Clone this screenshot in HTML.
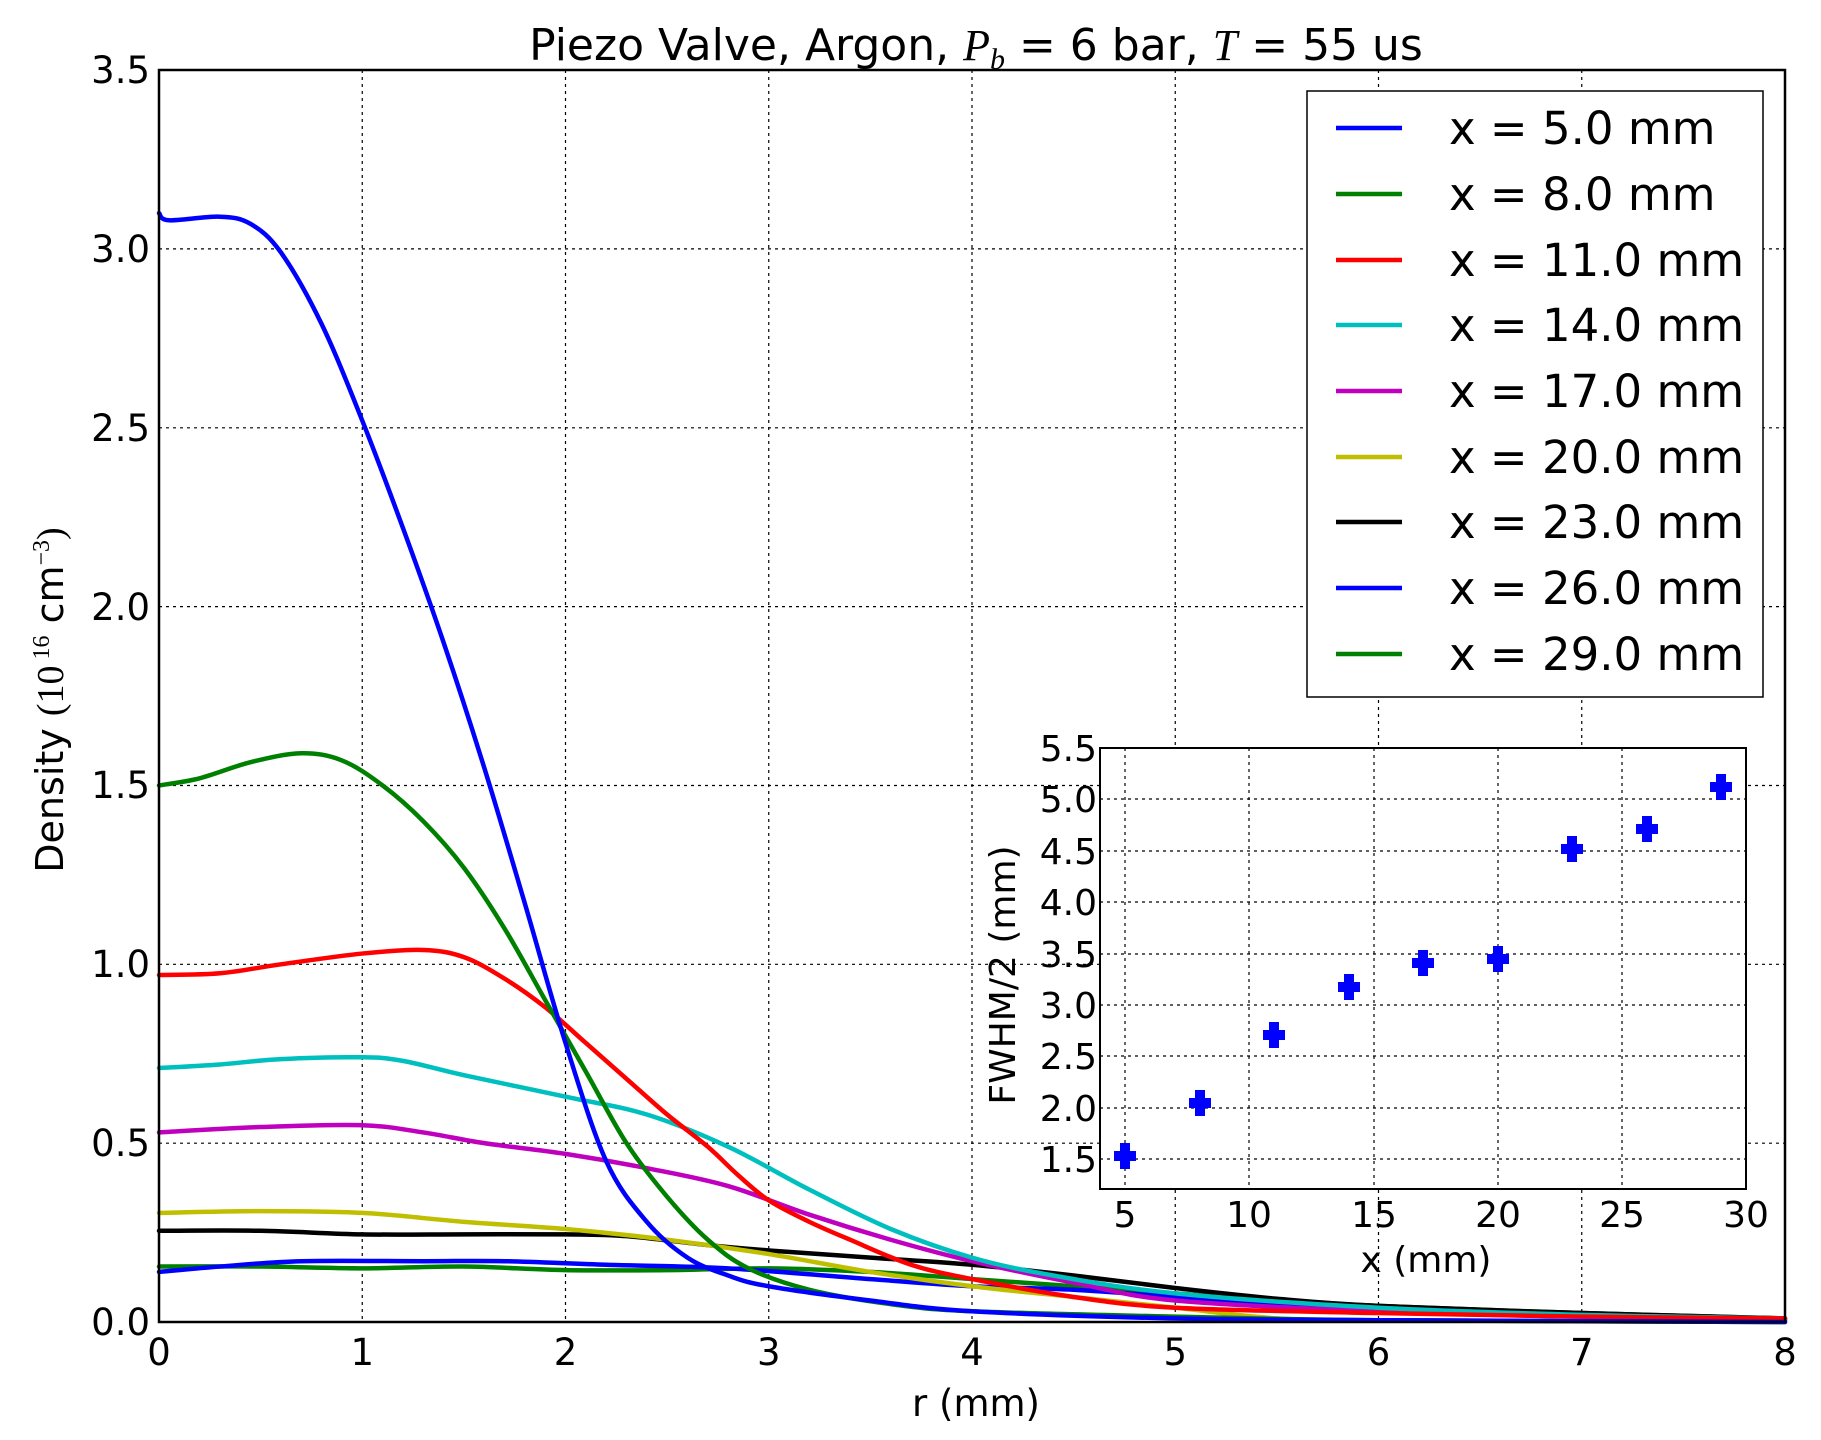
<!DOCTYPE html>
<html><head><meta charset="utf-8"><style>
html,body{margin:0;padding:0;background:#fff;}
svg{display:block;font-family:"DejaVu Sans","Liberation Sans",sans-serif;}
</style></head><body>
<svg id="s" width="1821" height="1440" viewBox="0 0 1821 1440" xmlns="http://www.w3.org/2000/svg">
<rect width="1821" height="1440" fill="#fff"/>
<g stroke="#000" stroke-width="1.2" stroke-dasharray="3,4">
<line x1="362.25" y1="70" x2="362.25" y2="1322"/><line x1="565.5" y1="70" x2="565.5" y2="1322"/><line x1="768.75" y1="70" x2="768.75" y2="1322"/><line x1="972" y1="70" x2="972" y2="1322"/><line x1="1175.25" y1="70" x2="1175.25" y2="1322"/><line x1="1378.5" y1="70" x2="1378.5" y2="1322"/><line x1="1581.75" y1="70" x2="1581.75" y2="1322"/>
<line x1="159" y1="1143.2" x2="1785" y2="1143.2"/><line x1="159" y1="964.3" x2="1785" y2="964.3"/><line x1="159" y1="785.5" x2="1785" y2="785.5"/><line x1="159" y1="606.6" x2="1785" y2="606.6"/><line x1="159" y1="427.8" x2="1785" y2="427.8"/><line x1="159" y1="248.9" x2="1785" y2="248.9"/>
</g>
<g transform="translate(159,1322) scale(203.25,-357.7)" fill="none" stroke-width="4.5" stroke-linejoin="round" stroke-linecap="round">
<polyline class="c" vector-effect="non-scaling-stroke" stroke="#008000" points="0,0.155 0.5,0.155 1,0.15 1.5,0.155 2,0.145 2.5,0.145 3,0.15 3.5,0.14 4,0.12 4.5,0.1 5,0.08 5.5,0.06 6,0.045 7,0.025 8,0.01"/>
<polyline class="c" vector-effect="non-scaling-stroke" stroke="#0000ff" points="0,0.14 0.3,0.155 0.7,0.17 1.3,0.17 1.7,0.17 2.2,0.16 2.8,0.15 3.5,0.12 4,0.1 4.5,0.09 5,0.07 5.5,0.05 6,0.035 7,0.02 7.5,0.01 8,0.005"/>
<polyline class="c" vector-effect="non-scaling-stroke" stroke="#000" points="0,0.255 0.5,0.255 1,0.245 1.5,0.245 2,0.245 2.3,0.24 2.7,0.215 3,0.2 3.5,0.18 4,0.16 4.5,0.13 5,0.095 5.5,0.065 6,0.045 7,0.025 8,0.01"/>
<polyline class="c" vector-effect="non-scaling-stroke" stroke="#bfbf00" points="0,0.305 0.5,0.31 1,0.305 1.5,0.28 2,0.26 2.5,0.23 3,0.19 3.5,0.14 4,0.1 4.5,0.07 5,0.04 5.5,0.01 6,0.005 8,0"/>
<polyline class="c" vector-effect="non-scaling-stroke" stroke="#bf00bf" points="0,0.53 0.5,0.545 1,0.55 1.3,0.53 1.6,0.5 2,0.47 2.4,0.43 2.8,0.38 3.2,0.3 3.6,0.23 4,0.17 4.5,0.11 5,0.06 6,0.03 7,0.015 8,0.01"/>
<polyline class="c" vector-effect="non-scaling-stroke" stroke="#00bfbf" points="0,0.71 0.3,0.72 0.6,0.735 1,0.74 1.2,0.73 1.5,0.69 2,0.63 2.4,0.58 2.8,0.49 3.2,0.37 3.6,0.26 4,0.18 4.4,0.13 5,0.08 6,0.04 7,0.02 8,0.01"/>
<polyline class="c" vector-effect="non-scaling-stroke" stroke="#ff0000" points="0,0.97 0.3,0.975 0.6,1.0 1.0,1.03 1.3,1.04 1.5,1.02 1.7,0.96 1.9,0.88 2.1,0.78 2.3,0.68 2.5,0.58 2.7,0.49 2.85,0.41 3.0,0.34 3.2,0.28 3.4,0.23 3.7,0.16 4,0.12 4.5,0.07 5,0.04 6,0.025 7,0.015 8,0.01"/>
<polyline class="c" vector-effect="non-scaling-stroke" stroke="#008000" points="0,1.5 0.2,1.52 0.45,1.565 0.7,1.59 0.9,1.57 1.1,1.5 1.3,1.4 1.5,1.27 1.7,1.1 1.9,0.9 2.1,0.7 2.3,0.5 2.5,0.35 2.7,0.23 2.9,0.15 3.2,0.09 3.6,0.05 4,0.03 5,0.015 6,0.005 8,0"/>
<polyline class="c" vector-effect="non-scaling-stroke" stroke="#0000ff" points="0,3.1 0.05,3.08 0.3,3.09 0.45,3.07 0.6,2.99 0.8,2.79 1.0,2.52 1.2,2.22 1.4,1.9 1.6,1.55 1.8,1.17 2.0,0.78 2.2,0.45 2.4,0.28 2.6,0.18 2.8,0.13 3,0.1 3.5,0.06 4,0.03 5,0.01 6,0.005 8,0"/>
</g>
<rect x="159" y="70" width="1626" height="1252" fill="none" stroke="#000" stroke-width="2.5"/>
<g font-size="37" text-anchor="middle">
<text x="159" y="1365">0</text><text x="362.25" y="1365">1</text><text x="565.5" y="1365">2</text><text x="768.75" y="1365">3</text><text x="972" y="1365">4</text><text x="1175.25" y="1365">5</text><text x="1378.5" y="1365">6</text><text x="1581.75" y="1365">7</text><text x="1785" y="1365">8</text>
</g>
<g font-size="37" text-anchor="end">
<text x="150" y="1335">0.0</text><text x="150" y="1156">0.5</text><text x="150" y="977">1.0</text><text x="150" y="798">1.5</text><text x="150" y="620">2.0</text><text x="150" y="441">2.5</text><text x="150" y="262">3.0</text><text x="150" y="83">3.5</text>
</g>
<text x="976" y="1416" font-size="37" text-anchor="middle">r (mm)</text>
<text transform="translate(63,700) rotate(-90)" font-size="38" text-anchor="middle">Density <tspan font-family="Liberation Serif,serif">(10</tspan><tspan font-family="Liberation Serif,serif" font-size="24" dy="-14"> 16</tspan><tspan dy="14"> cm</tspan><tspan font-family="Liberation Serif,serif" font-size="24" dy="-14">−3</tspan><tspan font-family="Liberation Serif,serif" dy="14">)</tspan></text>
<text x="976" y="60" font-size="44" text-anchor="middle">Piezo Valve, Argon, <tspan font-family="Liberation Serif,serif" font-style="italic">P</tspan><tspan font-family="Liberation Serif,serif" font-style="italic" font-size="30" dy="9">b</tspan><tspan dy="-9"> = 6 bar, </tspan><tspan font-family="Liberation Serif,serif" font-style="italic">T</tspan> = 55 us</text>
<rect x="1307" y="91" width="456" height="606" fill="#fff" stroke="#000" stroke-width="1.5"/>
<g stroke-width="4.5">
<line x1="1336" y1="128" x2="1402" y2="128" stroke="#0000ff"/>
<line x1="1336" y1="194" x2="1402" y2="194" stroke="#008000"/>
<line x1="1336" y1="260" x2="1402" y2="260" stroke="#ff0000"/>
<line x1="1336" y1="325" x2="1402" y2="325" stroke="#00bfbf"/>
<line x1="1336" y1="391" x2="1402" y2="391" stroke="#bf00bf"/>
<line x1="1336" y1="457" x2="1402" y2="457" stroke="#bfbf00"/>
<line x1="1336" y1="522" x2="1402" y2="522" stroke="#000"/>
<line x1="1336" y1="588" x2="1402" y2="588" stroke="#0000ff"/>
<line x1="1336" y1="654" x2="1402" y2="654" stroke="#008000"/>
</g>
<g font-size="45">
<text x="1449" y="144">x = 5.0 mm</text><text x="1449" y="210">x = 8.0 mm</text><text x="1449" y="276">x = 11.0 mm</text><text x="1449" y="341">x = 14.0 mm</text><text x="1449" y="407">x = 17.0 mm</text><text x="1449" y="473">x = 20.0 mm</text><text x="1449" y="538">x = 23.0 mm</text><text x="1449" y="604">x = 26.0 mm</text><text x="1449" y="670">x = 29.0 mm</text>
</g>
<rect x="1100" y="748" width="646" height="441" fill="#fff"/>
<g stroke="#000" stroke-width="1.2" stroke-dasharray="3,4">
<line x1="1125" y1="748" x2="1125" y2="1189"/><line x1="1249" y1="748" x2="1249" y2="1189"/><line x1="1374" y1="748" x2="1374" y2="1189"/><line x1="1498" y1="748" x2="1498" y2="1189"/><line x1="1622" y1="748" x2="1622" y2="1189"/>
<line x1="1100" y1="1159" x2="1746" y2="1159"/><line x1="1100" y1="1108" x2="1746" y2="1108"/><line x1="1100" y1="1056" x2="1746" y2="1056"/><line x1="1100" y1="1005" x2="1746" y2="1005"/><line x1="1100" y1="954" x2="1746" y2="954"/><line x1="1100" y1="902" x2="1746" y2="902"/><line x1="1100" y1="851" x2="1746" y2="851"/><line x1="1100" y1="799" x2="1746" y2="799"/>
</g>
<g fill="#0000ff">
<path d="M-5,-13h10v8h6v10h-6v8h-10v-8h-6v-10h6z" transform="translate(1125,1156)"/>
<path d="M-5,-13h10v8h6v10h-6v8h-10v-8h-6v-10h6z" transform="translate(1200,1103)"/>
<path d="M-5,-13h10v8h6v10h-6v8h-10v-8h-6v-10h6z" transform="translate(1274,1035)"/>
<path d="M-5,-13h10v8h6v10h-6v8h-10v-8h-6v-10h6z" transform="translate(1349,987)"/>
<path d="M-5,-13h10v8h6v10h-6v8h-10v-8h-6v-10h6z" transform="translate(1423,963)"/>
<path d="M-5,-13h10v8h6v10h-6v8h-10v-8h-6v-10h6z" transform="translate(1498,959)"/>
<path d="M-5,-13h10v8h6v10h-6v8h-10v-8h-6v-10h6z" transform="translate(1572,849)"/>
<path d="M-5,-13h10v8h6v10h-6v8h-10v-8h-6v-10h6z" transform="translate(1647,829)"/>
<path d="M-5,-13h10v8h6v10h-6v8h-10v-8h-6v-10h6z" transform="translate(1721,787)"/>
</g>
<rect x="1100" y="748" width="646" height="441" fill="none" stroke="#000" stroke-width="2"/>
<g font-size="36" text-anchor="middle">
<text x="1125" y="1227">5</text><text x="1249" y="1227">10</text><text x="1374" y="1227">15</text><text x="1498" y="1227">20</text><text x="1622" y="1227">25</text><text x="1746" y="1227">30</text>
</g>
<g font-size="36" text-anchor="end">
<text x="1097" y="1172">1.5</text><text x="1097" y="1121">2.0</text><text x="1097" y="1069">2.5</text><text x="1097" y="1018">3.0</text><text x="1097" y="967">3.5</text><text x="1097" y="915">4.0</text><text x="1097" y="864">4.5</text><text x="1097" y="812">5.0</text><text x="1097" y="761">5.5</text>
</g>
<text x="1426" y="1272" font-size="36" text-anchor="middle">x (mm)</text>
<text transform="translate(1015,975) rotate(-90)" font-size="36" text-anchor="middle">FWHM/2 (mm)</text>
</svg>
<script>
document.querySelectorAll('polyline.c').forEach(function(pl){
  var p=pl.getAttribute('points').trim().split(/\s+/).map(function(s){return s.split(',').map(Number);});
  var d='M'+p[0][0]+','+p[0][1];
  for(var i=0;i<p.length-1;i++){
    var p0=p[i>0?i-1:0],p1=p[i],p2=p[i+1],p3=p[i+2<p.length?i+2:i+1];
    var c1x=p1[0]+(p2[0]-p0[0])/6,c1y=p1[1]+(p2[1]-p0[1])/6;
    var c2x=p2[0]-(p3[0]-p1[0])/6,c2y=p2[1]-(p3[1]-p1[1])/6;
    d+=' C'+c1x+','+c1y+' '+c2x+','+c2y+' '+p2[0]+','+p2[1];
  }
  var np=document.createElementNS('http://www.w3.org/2000/svg','path');
  np.setAttribute('d',d);
  np.setAttribute('stroke',pl.getAttribute('stroke'));
  np.setAttribute('vector-effect','non-scaling-stroke');
  np.setAttribute('fill','none');
  pl.parentNode.replaceChild(np,pl);
});
</script>
</body></html>
